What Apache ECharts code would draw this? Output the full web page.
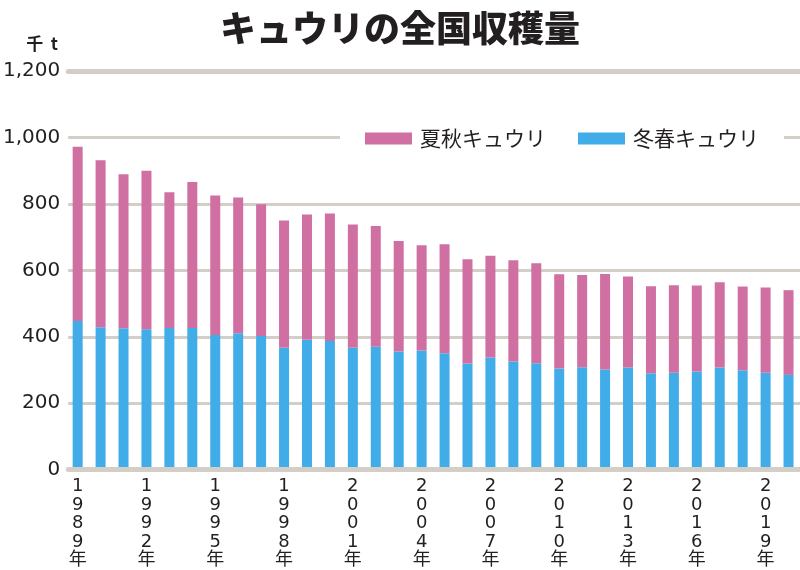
<!DOCTYPE html>
<html>
<head>
<meta charset="utf-8">
<script src="https://cdn.jsdelivr.net/npm/echarts@6/dist/echarts.min.js"></script>
<style>html,body{margin:0;padding:0;background:#fff}#c{width:800px;height:570px}</style>
</head>
<body>
<div id="c"></div>
<script>
const years = ['1989','1990','1991','1992','1993','1994','1995','1996','1997','1998','1999','2000','2001','2002','2003','2004','2005','2006','2007','2008','2009','2010','2011','2012','2013','2014','2015','2016','2017','2018','2019','2020'];
const winterSpring = [447,428,425,422,426,426,405,410,402,367,391,387,367,370,355,358,350,319,337,325,320,304,308,301,307,290,291,295,307,299,291,285];
const summerAutumn = [525,503,464,478,409,440,420,409,397,383,377,384,371,363,333,317,328,314,307,305,301,284,278,288,274,262,264,259,257,252,257,255];
const yTicks = [0,200,400,600,800,1000,1200];
const titleText = 'キュウリの全国収穫量';
const unitText = '千  t';
const seriesNames = ['夏秋キュウリ','冬春キュウリ'];

const TXT = '#231f20';
const GRIDC = '#d3cec8';
const PINK = '#d06fa2';
const BLUE = '#40ade8';
const NUMFONT = '"DejaVu Sans", "Noto Sans CJK JP", sans-serif';
const JPFONT = '"Noto Sans CJK JP", sans-serif';

const chart = echarts.init(document.getElementById('c'), null, {renderer:'canvas'});
chart.setOption({
  animation: false,
  backgroundColor: '#fff',
  title: {
    text: titleText, left: 'center', top: 5, padding: 0,
    textStyle: {fontSize: 36, fontWeight: 900, fontFamily: JPFONT, color: TXT, lineHeight: 46}
  },
  graphic: [{
    type: 'text', right: 742, top: 35,
    style: {text: unitText, fontSize: 17, fontWeight: 'bold', fontFamily: JPFONT, fill: TXT}
  }],
  legend: {
    data: seriesNames, left: 340, top: 123, padding: [5, 25],
    backgroundColor: '#fff', icon: 'rect', itemWidth: 47, itemHeight: 12, itemGap: 32,
    textStyle: {fontSize: 21, fontFamily: JPFONT, color: TXT, padding: [0,0,0,3]}
  },
  grid: [
    {left: 63, right: 0, top: 71, bottom: 100.3},
    {left: 66.2, width: 736.3, top: 71, bottom: 100.3}
  ],
  xAxis: [
    {type: 'value', gridIndex: 0, min: 0, max: 1, position: 'bottom', z: 5,
     axisLine: {show: true, lineStyle: {color: GRIDC, width: 5}},
     axisTick: {show: false}, axisLabel: {show: false}, splitLine: {show: false}},
    {type: 'value', gridIndex: 0, min: 0, max: 1, position: 'top', z: 5,
     axisLine: {show: true, lineStyle: {color: GRIDC, width: 5}},
     axisTick: {show: false}, axisLabel: {show: false}, splitLine: {show: false}},
    {type: 'category', gridIndex: 1, data: years,
     axisLine: {show: false}, axisTick: {show: false}, splitLine: {show: false},
     axisLabel: {interval: 2, margin: 8, fontSize: 18, lineHeight: 18.5, color: TXT, fontFamily: NUMFONT,
       formatter: v => (v.split('').concat(['年'])).join('\n')}}
  ],
  yAxis: [
    {type: 'value', gridIndex: 0, min: yTicks[0], max: yTicks[yTicks.length-1], interval: 200,
     axisLine: {show: false}, axisTick: {show: false},
     axisLabel: {margin: 8, fontSize: 20, color: TXT, fontFamily: NUMFONT,
       formatter: v => Number(v).toLocaleString('en-US')},
     splitLine: {show: true, lineStyle: {color: GRIDC, width: 3}}},
    {type: 'value', gridIndex: 1, min: yTicks[0], max: yTicks[yTicks.length-1], show: false,
     splitLine: {show: false}}
  ],
  series: [
    {name: seriesNames[1], type: 'bar', stack: 'total', xAxisIndex: 2, yAxisIndex: 1,
     data: winterSpring, barWidth: 10, itemStyle: {color: BLUE}},
    {name: seriesNames[0], type: 'bar', stack: 'total', xAxisIndex: 2, yAxisIndex: 1,
     data: summerAutumn, barWidth: 10, itemStyle: {color: PINK}}
  ]
});
</script>
</body>
</html>
